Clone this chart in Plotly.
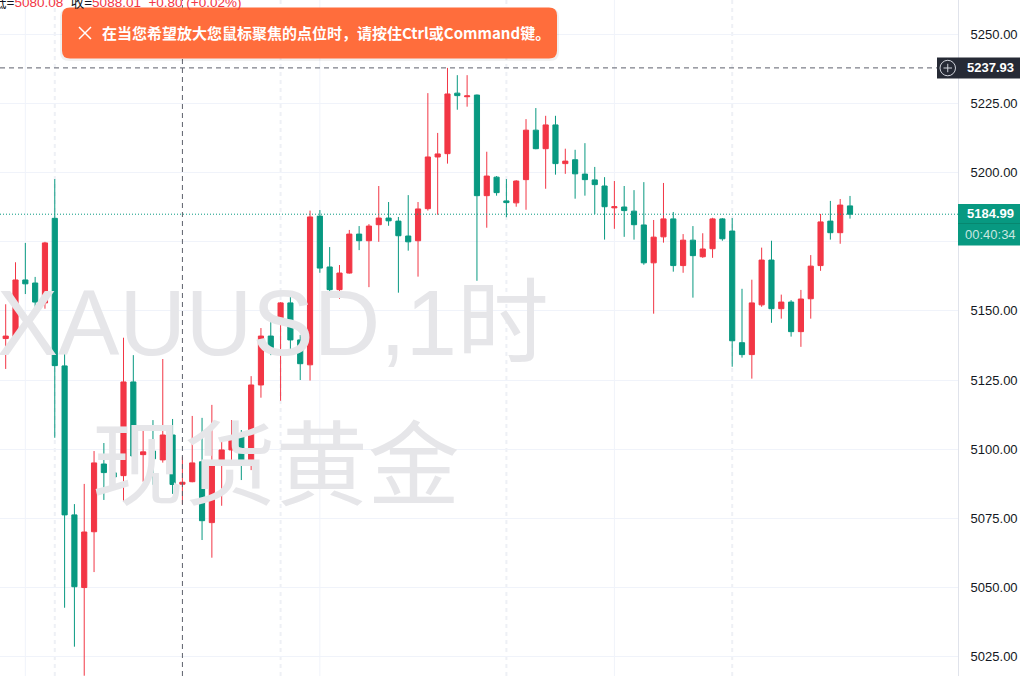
import plotly.graph_objects as go

# ---------------- data (hourly XAUUSD candles) ----------------
opens = [5140.0, 5140.7, 5161.2, 5160.1, 5152.9, 5183.5, 5130.1, 5076.2, 5049.9, 5070.1,
         5094.6, 5091.4, 5090.4, 5124.3, 5098.0, 5099.3, 5096.1, 5105.1, 5087.3, 5088.2,
         5095.4, 5073.4, 5094.4, 5099.7, 5104.4, 5095.4, 5123.2, 5140.9, 5147.5, 5152.9,
         5139.5, 5130.5, 5184.3, 5165.9, 5157.7, 5163.7, 5177.8, 5175.4, 5181.2, 5183.6,
         5182.5, 5177.1, 5175.4, 5187.0, 5205.7, 5206.9, 5228.8, 5227.5, 5228.1, 5191.7,
         5198.4, 5189.8, 5189.1, 5197.5, 5215.4, 5208.7, 5217.3, 5203.3, 5204.7, 5199.5,
         5197.4, 5195.2, 5187.3, 5187.6, 5186.1, 5181.1, 5167.4, 5176.8, 5183.3, 5166.4,
         5175.6, 5169.6, 5172.5, 5183.3, 5178.9, 5138.5, 5134.2, 5152.2, 5168.4, 5150.8,
         5153.2, 5142.5, 5154.4, 5166.4, 5182.5, 5178.3, 5188.0]
highs = [5152.4, 5167.6, 5174.6, 5162.3, 5175.0, 5197.7, 5135.5, 5080.1, 5087.4, 5099.3,
         5102.2, 5097.1, 5140.3, 5134.0, 5107.6, 5110.5, 5132.6, 5110.9, 5097.3, 5112.0,
         5111.3, 5116.0, 5103.3, 5110.5, 5106.9, 5126.4, 5143.8, 5147.8, 5153.2, 5155.8,
         5141.3, 5186.3, 5186.5, 5173.1, 5166.6, 5179.3, 5180.7, 5181.4, 5195.2, 5189.4,
         5184.0, 5191.9, 5189.4, 5228.8, 5214.4, 5237.93, 5235.3, 5235.3, 5228.3, 5207.6,
         5198.8, 5197.7, 5197.3, 5219.4, 5223.4, 5220.6, 5220.6, 5208.7, 5208.3, 5210.7,
         5202.1, 5198.4, 5197.0, 5195.2, 5193.7, 5196.6, 5182.9, 5196.3, 5185.8, 5177.8,
         5180.7, 5178.1, 5183.7, 5183.6, 5183.6, 5158.0, 5161.3, 5172.9, 5175.4, 5155.9,
         5153.9, 5157.6, 5170.2, 5185.1, 5189.8, 5190.5, 5191.6]
lows = [5129.0, 5138.9, 5156.1, 5149.6, 5150.8, 5104.1, 5042.6, 5028.5, 5018.0, 5055.5,
        5081.6, 5085.2, 5081.0, 5096.4, 5088.2, 5087.1, 5095.1, 5083.8, 5080.08, 5088.0,
        5067.1, 5060.7, 5079.5, 5094.6, 5088.8, 5092.4, 5118.6, 5134.0, 5117.5, 5135.5,
        5125.0, 5124.8, 5163.8, 5155.9, 5154.4, 5163.5, 5172.0, 5158.6, 5175.0, 5180.8,
        5156.6, 5171.8, 5162.4, 5186.3, 5184.8, 5203.3, 5222.8, 5223.9, 5160.9, 5180.1,
        5191.7, 5183.9, 5187.7, 5186.6, 5208.5, 5194.2, 5199.3, 5199.6, 5190.6, 5191.7,
        5185.0, 5175.8, 5179.7, 5176.8, 5175.8, 5166.7, 5149.0, 5174.7, 5164.2, 5163.8,
        5154.8, 5169.2, 5169.2, 5175.4, 5129.8, 5133.1, 5125.5, 5151.5, 5145.7, 5147.2,
        5140.7, 5137.0, 5147.2, 5164.5, 5175.8, 5174.3, 5183.4]
closes = [5140.9, 5161.2, 5159.8, 5153.2, 5174.6, 5130.2, 5076.2, 5050.2, 5070.0, 5095.0,
          5091.5, 5089.9, 5124.3, 5097.5, 5099.0, 5096.5, 5105.1, 5087.2, 5088.01, 5095.0,
          5074.1, 5093.9, 5099.7, 5104.7, 5095.8, 5123.2, 5140.9, 5136.7, 5152.9, 5139.5,
          5130.9, 5184.0, 5165.5, 5157.7, 5163.7, 5177.8, 5175.4, 5180.7, 5183.6, 5182.6,
          5177.2, 5175.0, 5186.9, 5205.7, 5206.8, 5228.5, 5227.9, 5227.8, 5191.7, 5198.8,
          5192.8, 5189.2, 5197.0, 5215.4, 5208.7, 5217.3, 5203.3, 5204.2, 5199.6, 5197.5,
          5195.7, 5187.7, 5187.7, 5186.3, 5181.2, 5167.4, 5176.7, 5183.3, 5166.4, 5175.6,
          5170.0, 5172.4, 5183.3, 5176.1, 5139.2, 5134.2, 5152.9, 5168.4, 5150.8, 5153.2,
          5142.5, 5154.3, 5166.2, 5182.2, 5178.3, 5188.3, 5184.99]
bar_index = list(range(len(closes)))

price_ticks = [5025, 5050, 5075, 5100, 5125, 5150, 5175, 5200, 5225, 5250]
price_tick_text = ["5025.00", "5050.00", "5075.00", "5100.00", "5125.00", "5150.00",
                   "", "5200.00", "5225.00", "5250.00"]  # 5175 is covered by the last-price label
last_price = 5184.99
crosshair_price = 5237.93
crosshair_bar = 18
countdown = "00:40:34"
grid_bars = [2, 32, 62]
session_bars = [5, 28, 51, 74]
header_low = "5080.08"
header_close = "5088.01"
header_change = "+0.80 (+0.02%)"
wm_line1 = "XAUUSD,1时"
wm_line2 = "现货黄金"
toast_text = "在当您希望放大您鼠标聚焦的点位时，请按住Ctrl或Command键。"

UP = "#F23645"
DOWN = "#089981"

W, H = 1020, 676
R = 62
PW = W - R
X_RANGE = [-0.58, 97.0]
Y_RANGE = [5017.9, 5262.5]


def pxx(x):
    return x / PW


def pxy(y):
    return 1 - y / H


fig = go.Figure()

# watermark (under candles)
fig.add_trace(go.Scatter(
    x=[27.2, 27.5], y=[5142.4, 5090.8], mode="text",
    text=[wm_line1, wm_line2], textposition="middle center",
    textfont=dict(size=92, color="#e6e6e9", family="Liberation Sans, Noto Sans CJK SC"),
    hoverinfo="skip", showlegend=False))

fig.add_trace(go.Candlestick(
    x=bar_index, open=opens, high=highs, low=lows, close=closes,
    increasing=dict(line=dict(color=UP, width=1), fillcolor=UP),
    decreasing=dict(line=dict(color=DOWN, width=1), fillcolor=DOWN),
    whiskerwidth=0, showlegend=False, hoverinfo="skip"))

shapes = []
for b in grid_bars:
    shapes.append(dict(type="line", xref="x", yref="paper", x0=b, x1=b, y0=0, y1=1,
                       line=dict(color="#f0f3fa", width=1), layer="below"))
for b in session_bars:
    shapes.append(dict(type="line", xref="x", yref="paper", x0=b, x1=b, y0=0, y1=1,
                       line=dict(color="#eef0f5", width=2, dash="4px,4px"), layer="below"))

# last price dotted line
shapes.append(dict(type="line", xref="paper", yref="y", x0=0, x1=1, y0=last_price, y1=last_price,
                   line=dict(color=DOWN, width=1, dash="1px,2px"), layer="above"))
# crosshair
shapes.append(dict(type="line", xref="x", yref="paper", x0=crosshair_bar, x1=crosshair_bar, y0=0, y1=1,
                   line=dict(color="#5d606b", width=1, dash="5px,4px"), layer="above"))
shapes.append(dict(type="line", xref="paper", yref="y", x0=0, x1=1, y0=crosshair_price, y1=crosshair_price,
                   line=dict(color="#5d606b", width=1, dash="5px,4px"), layer="above"))

# crosshair price label
shapes.append(dict(type="rect", xref="paper", yref="paper", x0=pxx(937), x1=pxx(W),
                   y0=pxy(78.5), y1=pxy(57.5), fillcolor="#262a35", line=dict(width=0), layer="above"))
shapes.append(dict(type="circle", xref="paper", yref="paper", x0=pxx(940), x1=pxx(955.5),
                   y0=pxy(75.8), y1=pxy(60.3), line=dict(color="#d1d4dc", width=1), layer="above"))
shapes.append(dict(type="line", xref="paper", yref="paper", x0=pxx(943.5), x1=pxx(952),
                   y0=pxy(68), y1=pxy(68), line=dict(color="#d1d4dc", width=1), layer="above"))
shapes.append(dict(type="line", xref="paper", yref="paper", x0=pxx(947.75), x1=pxx(947.75),
                   y0=pxy(63.8), y1=pxy(72.2), line=dict(color="#d1d4dc", width=1), layer="above"))

# last price label
shapes.append(dict(type="rect", xref="paper", yref="paper", x0=pxx(958), x1=pxx(W),
                   y0=pxy(245.5), y1=pxy(204), fillcolor=DOWN, line=dict(width=0), layer="above"))
shapes.append(dict(type="line", xref="paper", yref="paper", x0=pxx(958), x1=pxx(W),
                   y0=pxy(223.5), y1=pxy(223.5), line=dict(color="#07876f", width=1), layer="above"))

# toast
def rrect(x0, y0, x1, y1, r):
    return (f"M {pxx(x0 + r)},{pxy(y0)} L {pxx(x1 - r)},{pxy(y0)} Q {pxx(x1)},{pxy(y0)} {pxx(x1)},{pxy(y0 + r)} "
            f"L {pxx(x1)},{pxy(y1 - r)} Q {pxx(x1)},{pxy(y1)} {pxx(x1 - r)},{pxy(y1)} "
            f"L {pxx(x0 + r)},{pxy(y1)} Q {pxx(x0)},{pxy(y1)} {pxx(x0)},{pxy(y1 - r)} "
            f"L {pxx(x0)},{pxy(y0 + r)} Q {pxx(x0)},{pxy(y0)} {pxx(x0 + r)},{pxy(y0)} Z")

shapes.append(dict(type="path", xref="paper", yref="paper", path=rrect(60, 8, 559, 61, 9),
                   fillcolor="rgba(0,0,0,0.06)", line=dict(width=0), layer="above"))
shapes.append(dict(type="path", xref="paper", yref="paper", path=rrect(62, 7.5, 557, 58.5, 8),
                   fillcolor="#ff6d3c", line=dict(width=0), layer="above"))
shapes.append(dict(type="line", xref="paper", yref="paper", x0=pxx(79), x1=pxx(91),
                   y0=pxy(27), y1=pxy(39), line=dict(color="white", width=1.5), layer="above"))
shapes.append(dict(type="line", xref="paper", yref="paper", x0=pxx(79), x1=pxx(91),
                   y0=pxy(39), y1=pxy(27), line=dict(color="white", width=1.5), layer="above"))

annotations = [
    dict(xref="paper", yref="paper", x=pxx(100), y=pxy(33), xanchor="left", yanchor="middle",
         text=f"<b>{toast_text}</b>", showarrow=False,
         font=dict(size=15, color="white", family="Noto Sans CJK SC")),
    dict(xref="paper", yref="paper", x=pxx(-9), y=pxy(2), xanchor="left", yanchor="middle",
         text=(f"<span style='color:#131722'>低=</span><span style='color:{UP}'>{header_low}</span>"
               f"  <span style='color:#131722'>收=</span><span style='color:{UP}'>{header_close}</span>"
               f"  <span style='color:{UP}'>{header_change}</span>"),
         showarrow=False, font=dict(size=13.5, family="Liberation Sans, Noto Sans CJK SC")),
    dict(xref="paper", yref="paper", x=pxx(990), y=pxy(68), xanchor="center", yanchor="middle",
         text=f"<b>{crosshair_price:.2f}</b>", showarrow=False,
         font=dict(size=13, color="white", family="Liberation Sans")),
    dict(xref="paper", yref="paper", x=pxx(990), y=pxy(214), xanchor="center", yanchor="middle",
         text=f"<b>{last_price:.2f}</b>", showarrow=False,
         font=dict(size=13, color="white", family="Liberation Sans")),
    dict(xref="paper", yref="paper", x=pxx(990), y=pxy(235), xanchor="center", yanchor="middle",
         text=countdown, showarrow=False,
         font=dict(size=13, color="rgba(255,255,255,0.78)", family="Liberation Sans")),
]

fig.update_layout(
    width=W, height=H,
    margin=dict(l=0, r=R, t=0, b=0),
    paper_bgcolor="white", plot_bgcolor="white",
    showlegend=False, hovermode=False,
    boxgap=0.25, boxgroupgap=0.3,
    shapes=shapes, annotations=annotations,
    xaxis=dict(range=X_RANGE, showgrid=False, zeroline=False, showticklabels=False,
               rangeslider=dict(visible=False), fixedrange=True, showline=False),
    yaxis=dict(range=Y_RANGE, side="right", tickvals=price_ticks, ticktext=price_tick_text,
               showgrid=True, gridcolor="#f0f3fa", gridwidth=1, zeroline=False,
               showline=True, linecolor="#e0e3eb", linewidth=1, ticks="",
               ticklabelstandoff=9,
               tickfont=dict(size=13, color="#131722", family="Liberation Sans"),
               fixedrange=True),
)

fig.write_html("out.html", config={"displayModeBar": False, "staticPlot": True},
               post_script="document.body.style.margin='0';document.body.style.overflow='hidden';")
